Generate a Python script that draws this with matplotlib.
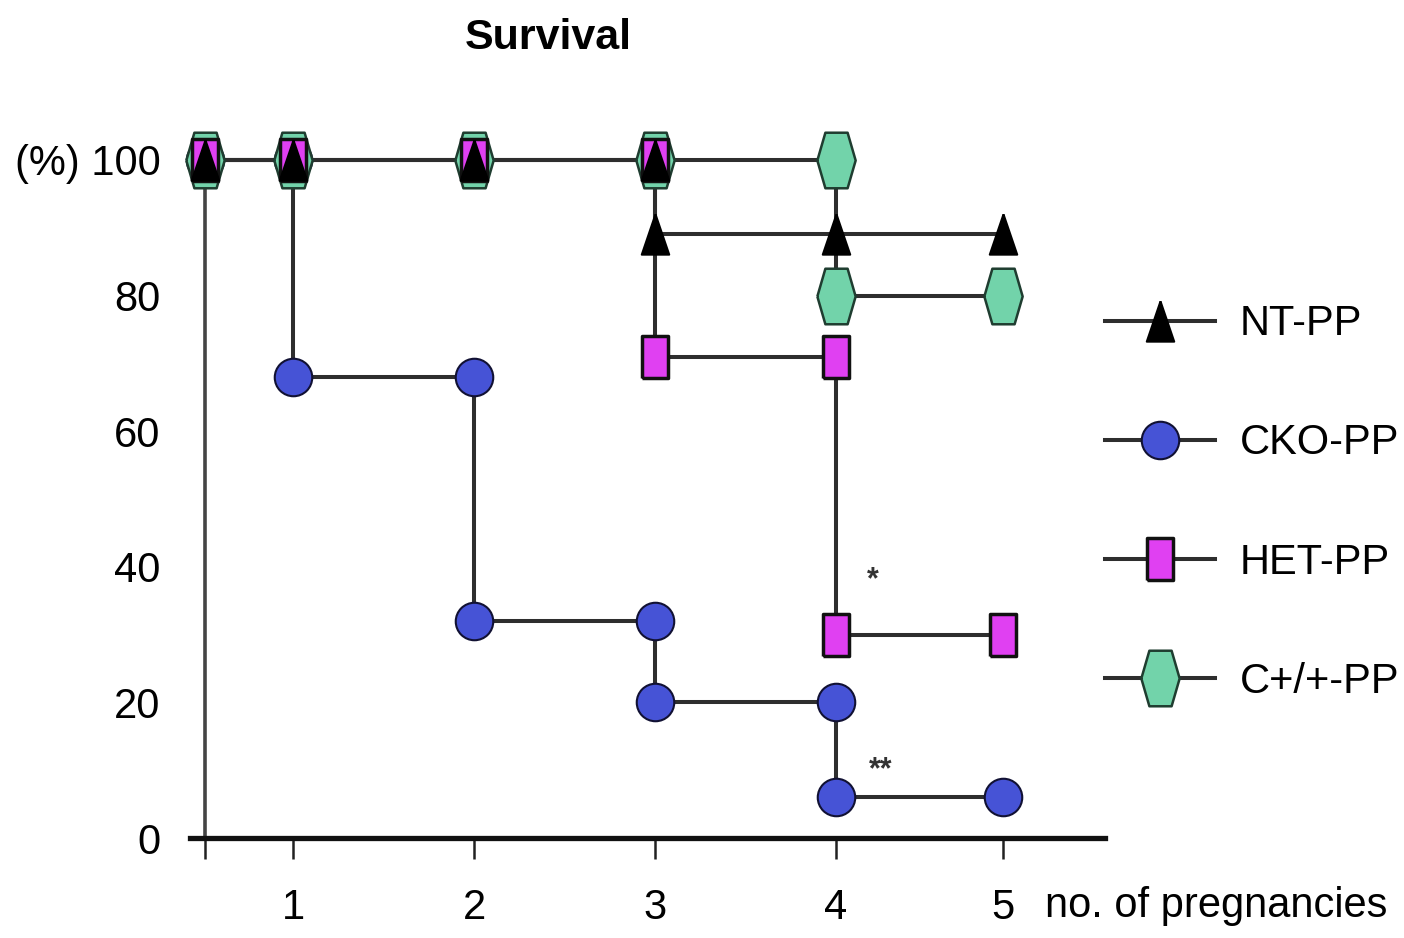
import numpy as np
import matplotlib
matplotlib.use("Agg")
import matplotlib.pyplot as plt
from matplotlib.lines import Line2D

plt.rcParams['font.family'] = ['Liberation Sans', 'DejaVu Sans']

# ---- data ----
pregnancies = [0, 1, 2, 3, 4, 5]
nt_pp = [100, 100, 100, 89, 89, 89]
cko_pp = [100, 68, 32, 20, 6, 6]
het_pp = [100, 100, 100, 71, 30, 30]
cwt_pp = [100, 100, 100, 100, 80, 80]
series_names = ['NT-PP', 'CKO-PP', 'HET-PP', 'C+/+-PP']
yticks = [0, 20, 40, 60, 80, 100]
ytick_labels = ['0', '20', '40', '60', '80', '(%) 100']
xtick_labels = ['', '1', '2', '3', '4', '5']
sig_marks = [(4.22, 38.0, '*'), (4.27, 10.0, '**')]

# ---- figure ----
W, H = 1404, 938
FS = 30
fig = plt.figure(figsize=(W / 100, H / 100), dpi=100)
ax = fig.add_axes([190 / W, (H - 838) / H, (1105 - 190) / W, (838 - 126) / H])

# non-uniform x axis as drawn in the original
xp = np.array([-1, 0, 1, 2, 3, 4, 5, 6], float)
fp = np.array([-88, 0, 88, 269, 450, 631, 798, 965], float)
def fwd(x):
    return np.interp(x, xp, fp)
def inv(y):
    return np.interp(y, fp, xp)
ax.set_xscale('function', functions=(fwd, inv))

# custom markers
hexagon = [(-0.69, 0), (-0.4, 1), (0.4, 1), (0.69, 0), (0.4, -1), (-0.4, -1), (-0.69, 0)]
rect = [(-0.64, -1), (-0.64, 1), (0.64, 1), (0.64, -1), (-0.64, -1)]
tri = [(0, 1), (0.68, -1), (-0.68, -1), (0, 1)]

styles = {
    'NT-PP': dict(marker=tri, ms=29, mfc='black', mec='black', mew=1.5, z=6),
    'CKO-PP': dict(marker='o', ms=27, mfc='#4653d6', mec='#111133', mew=1.5, z=3),
    'HET-PP': dict(marker=rect, ms=30, mfc='#e040f2', mec='#111111', mew=2.5, z=5),
    'C+/+-PP': dict(marker=hexagon, ms=40, mfc='#72d3aa', mec='#1f3d30', mew=1.8, z=4),
}
data = {'NT-PP': nt_pp, 'CKO-PP': cko_pp, 'HET-PP': het_pp, 'C+/+-PP': cwt_pp}
line_color = '#2e2e2e'
LW = 2.9

for name in series_names:
    vals = data[name]
    st = styles[name]
    ax.plot(pregnancies, vals, drawstyle='steps-post', color=line_color, lw=LW,
            zorder=2, solid_capstyle='butt')
    mx, my = [], []
    for i, (t, v) in enumerate(zip(pregnancies, vals)):
        if i > 0 and vals[i - 1] != v:
            mx.append(t)
            my.append(vals[i - 1])
        mx.append(t)
        my.append(v)
    ax.plot(mx, my, ls='none', marker=st['marker'], ms=st['ms'], mfc=st['mfc'],
            mec=st['mec'], mew=st['mew'], zorder=st['z'], clip_on=False)

for x, y, s in sig_marks:
    ax.text(x, y, s, fontsize=22, fontweight='bold', ha='center', va='center',
            color='#333333')

ax.set_xlim(-0.17, 5.61)
ax.set_ylim(0, 105)

for s in ['top', 'right']:
    ax.spines[s].set_visible(False)
ax.spines['left'].set_position(('data', 0))
ax.spines['left'].set_bounds(0, 100)
ax.spines['left'].set_color('#444444')
ax.spines['left'].set_linewidth(2.6)
ax.spines['bottom'].set_linewidth(3.8)
ax.spines['bottom'].set_color('#111111')

ax.set_yticks(yticks)
ax.set_yticklabels(ytick_labels)
ax.tick_params(axis='y', length=0, pad=32, labelsize=FS)
ax.set_xticks(pregnancies)
ax.set_xticklabels(xtick_labels)
ax.tick_params(axis='x', direction='out', length=15, width=1.8, pad=21, labelsize=FS,
               color='#222222')

fig.text(1045 / W, (H - 906) / H, 'no. of pregnancies', fontsize=FS, ha='left', va='center')
fig.text(548 / W, (H - 38) / H, 'Survival', fontsize=FS + 1, fontweight='bold',
         ha='center', va='center')

handles = []
for name in series_names:
    st = styles[name]
    handles.append(Line2D([0], [0], color=line_color, lw=LW, marker=st['marker'],
                          ms=st['ms'], mfc=st['mfc'], mec=st['mec'], mew=st['mew']))
leg = fig.legend(handles, series_names, loc='center left',
                 bbox_to_anchor=(1105 / W, (H - 503) / H), frameon=False,
                 fontsize=FS, handlelength=2.64, handletextpad=0.6,
                 labelspacing=1.9, borderpad=0, borderaxespad=0)

fig.savefig('out.png', dpi=100)
